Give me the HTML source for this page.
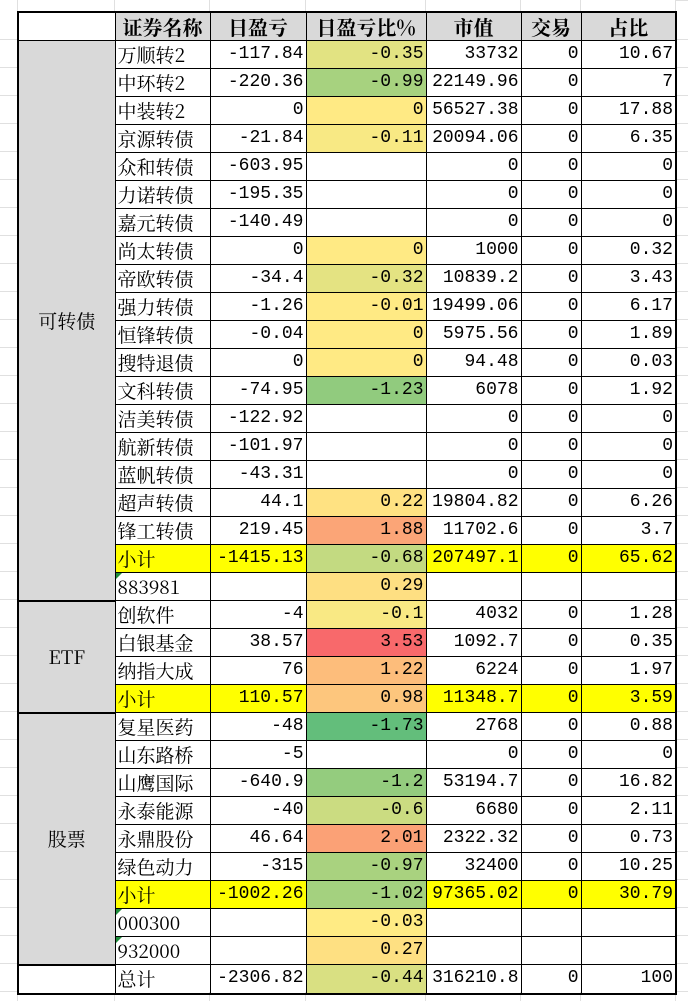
<!DOCTYPE html>
<html><head><meta charset="utf-8">
<style>
html,body{margin:0;padding:0;background:#fff;width:688px;height:1001px;overflow:hidden;position:relative}
.gl{position:absolute;background:#e0e0e0}
table{position:absolute;left:17px;top:11px;border-collapse:collapse;table-layout:fixed;border:2px solid #000}
td{border:1px solid #000;height:27px;padding:0 2px;font-family:"Liberation Mono","Noto Serif CJK SC",monospace;font-size:18px;line-height:27px;white-space:nowrap;overflow:hidden;text-align:right;position:relative}
td.t{text-align:left;font-family:"Noto Serif CJK SC","Liberation Serif",serif;font-size:19px}
td.h{background:#d9d9d9;text-align:center;font-weight:bold;font-family:"Noto Serif CJK SC",serif;font-size:20px}
td.g{background:#d9d9d9;text-align:center;font-family:"Noto Serif CJK SC","Liberation Sans",serif;font-size:19px}
td.y{background:#ffff00}
.tri{position:absolute;left:0;top:0;width:0;height:0;border-top:6px solid #1e8c3a;border-right:6px solid transparent}
</style></head><body>
<div id="bg"></div>
<table id="t"><colgroup><col style="width:97px"><col style="width:95px"><col style="width:96px"><col style="width:120px"><col style="width:95px"><col style="width:60px"><col style="width:95px"></colgroup><tbody id="tb"></tbody></table>
<script>
var bg=document.getElementById('bg');
function gl(x,y,w,h){var d=document.createElement('div');d.className='gl';d.style.cssText='left:'+x+'px;top:'+y+'px;width:'+w+'px;height:'+h+'px';bg.appendChild(d);}
[17,114,209,305,425,520,580,675].forEach(function(x){gl(x,0,1,11);gl(x,992,1,9);});
for(var y=39;y<1001;y+=28)gl(0,y,17,1);gl(676,0,12,1);
for(var y=39;y<1001;y+=28)gl(676,y,12,1);
var rows=[
["万顺转2","-117.84","-0.35","33732","0","10.67"],
["中环转2","-220.36","-0.99","22149.96","0","7"],
["中装转2","0","0","56527.38","0","17.88"],
["京源转债","-21.84","-0.11","20094.06","0","6.35"],
["众和转债","-603.95","","0","0","0"],
["力诺转债","-195.35","","0","0","0"],
["嘉元转债","-140.49","","0","0","0"],
["尚太转债","0","0","1000","0","0.32"],
["帝欧转债","-34.4","-0.32","10839.2","0","3.43"],
["强力转债","-1.26","-0.01","19499.06","0","6.17"],
["恒锋转债","-0.04","0","5975.56","0","1.89"],
["搜特退债","0","0","94.48","0","0.03"],
["文科转债","-74.95","-1.23","6078","0","1.92"],
["洁美转债","-122.92","","0","0","0"],
["航新转债","-101.97","","0","0","0"],
["蓝帆转债","-43.31","","0","0","0"],
["超声转债","44.1","0.22","19804.82","0","6.26"],
["锋工转债","219.45","1.88","11702.6","0","3.7"],
["小计","-1415.13","-0.68","207497.1","0","65.62","Y"],
["883981","","0.29","","","","T"],
["创软件","-4","-0.1","4032","0","1.28"],
["白银基金","38.57","3.53","1092.7","0","0.35"],
["纳指大成","76","1.22","6224","0","1.97"],
["小计","110.57","0.98","11348.7","0","3.59","Y"],
["复星医药","-48","-1.73","2768","0","0.88"],
["山东路桥","-5","","0","0","0"],
["山鹰国际","-640.9","-1.2","53194.7","0","16.82"],
["永泰能源","-40","-0.6","6680","0","2.11"],
["永鼎股份","46.64","2.01","2322.32","0","0.73"],
["绿色动力","-315","-0.97","32400","0","10.25"],
["小计","-1002.26","-1.02","97365.02","0","30.79","Y"],
["000300","","-0.03","","","","T"],
["932000","","0.27","","","","T"],
["总计","-2306.82","-0.44","316210.8","0","100"]];
var mn=-1.73,md=-0.03,mx=3.53,G=[99,190,123],Yl=[255,235,132],R=[248,105,107];
function col(v){var a,b,t;if(v<=md){t=(v-mn)/(md-mn);a=G;b=Yl;}else{t=(v-md)/(mx-md);a=Yl;b=R;}
return 'rgb('+a.map(function(c,i){return Math.round(c+(b[i]-c)*t)}).join(',')+')';}
var h='<tr style="height:28px"><td style="background:#fff"></td><td class="h">证券名称</td><td class="h">日盈亏</td><td class="h">日盈亏比%</td><td class="h">市值</td><td class="h">交易</td><td class="h">占比</td></tr>';
rows.forEach(function(r,i){
 h+='<tr style="height:28px">';
 if(i==0)h+='<td class="g" rowspan="20" style="border-bottom:2px solid #000">可转债</td>';
 if(i==20)h+='<td class="g" rowspan="4" style="border-bottom:2px solid #000">ETF</td>';
 if(i==24)h+='<td class="g" rowspan="9" style="border-bottom:2px solid #000">股票</td>';
 if(i==33)h+='<td style="background:#fff"></td>';
 var y=r[6]=='Y'?' y':'';
 h+='<td class="t'+y+'">'+(r[6]=='T'?'<span class="tri"></span>':'')+r[0]+'</td>';
 h+='<td class="'+y+'">'+r[1]+'</td>';
 h+='<td style="'+(r[2]!==''?'background:'+col(parseFloat(r[2])):'')+'">'+r[2]+'</td>';
 h+='<td class="'+y+'">'+r[3]+'</td><td class="'+y+'">'+r[4]+'</td><td class="'+y+'">'+r[5]+'</td></tr>';
});
document.getElementById('tb').innerHTML=h;
</script>
</body></html>
